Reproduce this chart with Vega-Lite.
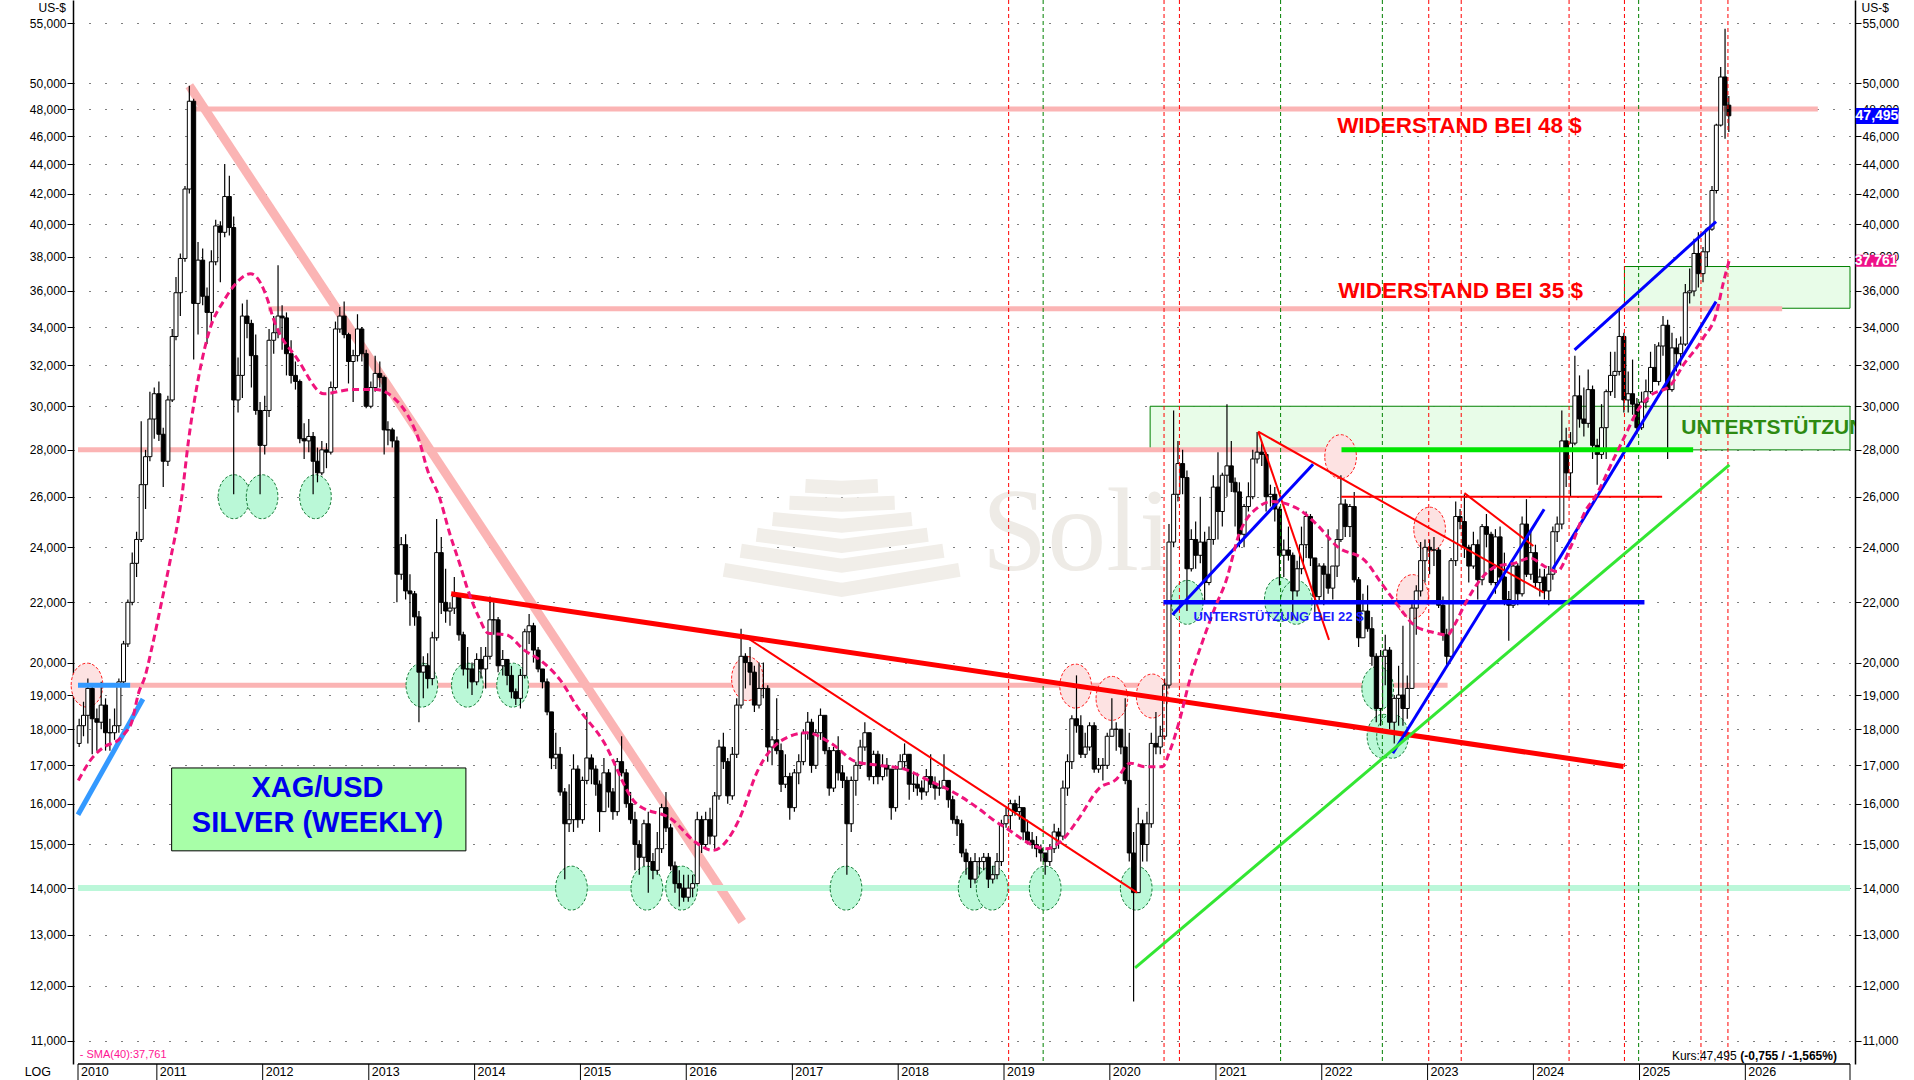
{
"$schema":"https://vega.github.io/schema/vega-lite/v6.json",
"width":1782,"height":1064,
"autosize":{"type":"none"},
"padding":{"left":73,"top":0,"right":59,"bottom":16},
"background":"white",
"config":{"view":{"stroke":null},"font":"Liberation Sans"},
"resolve":{"scale":{"x":"shared","y":"shared"},"axis":{"y":"independent"}},
"datasets":{
"candles":[
{"d":"2010-04-08","o":17.6,"h":18.3,"l":17.5,"c":18.1},{"d":"2010-04-23","o":18.1,"h":18.8,"l":17.8,"c":18.4},{"d":"2010-05-08","o":18.4,"h":19.5,"l":17.6,"c":19.2},{"d":"2010-05-23","o":19.2,"h":19.3,"l":17.3,"c":18.3},{"d":"2010-06-08","o":18.3,"h":18.6,"l":17.4,"c":18.2},{"d":"2010-06-23","o":18.2,"h":19.4,"l":18.0,"c":18.7},{"d":"2010-07-08","o":18.7,"h":18.9,"l":17.4,"c":17.9},{"d":"2010-07-23","o":17.9,"h":18.3,"l":17.4,"c":17.9},{"d":"2010-08-08","o":17.9,"h":18.6,"l":17.7,"c":18.1},{"d":"2010-08-23","o":18.1,"h":19.5,"l":17.9,"c":19.4},{"d":"2010-09-08","o":19.4,"h":20.7,"l":19.3,"c":20.6},{"d":"2010-09-23","o":20.6,"h":22.1,"l":20.5,"c":22.0},{"d":"2010-10-08","o":22.0,"h":23.8,"l":21.9,"c":23.4},{"d":"2010-10-23","o":23.4,"h":24.6,"l":22.9,"c":24.3},{"d":"2010-11-08","o":24.3,"h":29.3,"l":24.2,"c":26.5},{"d":"2010-11-23","o":26.5,"h":28.0,"l":25.5,"c":27.7},{"d":"2010-12-08","o":27.7,"h":30.7,"l":27.5,"c":29.4},{"d":"2010-12-23","o":29.4,"h":30.9,"l":28.5,"c":30.6},
{"d":"2011-01-08","o":30.6,"h":31.2,"l":28.4,"c":28.7},{"d":"2011-01-23","o":28.7,"h":29.0,"l":26.4,"c":27.5},{"d":"2011-02-08","o":27.5,"h":30.5,"l":27.3,"c":30.3},{"d":"2011-02-23","o":30.3,"h":33.9,"l":30.2,"c":33.5},{"d":"2011-03-08","o":33.5,"h":36.8,"l":33.3,"c":35.9},{"d":"2011-03-23","o":35.9,"h":38.2,"l":34.6,"c":37.9},{"d":"2011-04-08","o":37.9,"h":42.5,"l":37.7,"c":42.3},{"d":"2011-04-23","o":42.3,"h":49.8,"l":42.0,"c":48.6},{"d":"2011-05-08","o":48.6,"h":48.8,"l":32.3,"c":35.3},{"d":"2011-05-23","o":35.3,"h":38.9,"l":33.6,"c":37.8},{"d":"2011-06-08","o":37.8,"h":38.5,"l":35.2,"c":35.7},{"d":"2011-06-23","o":35.7,"h":36.2,"l":33.1,"c":34.8},{"d":"2011-07-08","o":34.8,"h":38.4,"l":34.0,"c":37.7},{"d":"2011-07-23","o":37.7,"h":40.3,"l":37.5,"c":39.9},{"d":"2011-08-08","o":39.9,"h":40.2,"l":36.5,"c":39.5},{"d":"2011-08-23","o":39.5,"h":44.0,"l":39.2,"c":41.8},{"d":"2011-09-08","o":41.8,"h":43.2,"l":39.3,"c":39.8},{"d":"2011-09-23","o":39.8,"h":40.5,"l":26.1,"c":30.3},{"d":"2011-10-08","o":30.3,"h":32.4,"l":29.7,"c":31.5},{"d":"2011-10-23","o":31.5,"h":35.3,"l":30.4,"c":34.6},{"d":"2011-11-08","o":34.6,"h":35.5,"l":33.4,"c":34.2},{"d":"2011-11-23","o":34.2,"h":34.4,"l":30.9,"c":32.5},{"d":"2011-12-08","o":32.5,"h":33.6,"l":29.6,"c":29.8},{"d":"2011-12-23","o":29.8,"h":30.2,"l":26.1,"c":28.2},
{"d":"2012-01-08","o":28.2,"h":30.5,"l":27.8,"c":29.8},{"d":"2012-01-23","o":29.8,"h":33.9,"l":29.5,"c":33.3},{"d":"2012-02-08","o":33.3,"h":34.6,"l":32.6,"c":33.7},{"d":"2012-02-23","o":33.7,"h":37.5,"l":33.4,"c":34.6},{"d":"2012-03-08","o":34.6,"h":35.2,"l":32.8,"c":34.5},{"d":"2012-03-23","o":34.5,"h":34.8,"l":31.5,"c":32.6},{"d":"2012-04-08","o":32.6,"h":33.3,"l":31.1,"c":31.5},{"d":"2012-04-23","o":31.5,"h":32.2,"l":30.8,"c":31.2},{"d":"2012-05-08","o":31.2,"h":31.3,"l":28.3,"c":28.5},{"d":"2012-05-23","o":28.5,"h":29.2,"l":27.6,"c":28.4},{"d":"2012-06-08","o":28.4,"h":29.4,"l":27.9,"c":28.6},{"d":"2012-06-23","o":28.6,"h":28.8,"l":26.1,"c":27.5},{"d":"2012-07-08","o":27.5,"h":28.1,"l":26.6,"c":27.0},{"d":"2012-07-23","o":27.0,"h":28.4,"l":26.9,"c":28.0},{"d":"2012-08-08","o":28.0,"h":28.3,"l":27.2,"c":27.9},{"d":"2012-08-23","o":27.9,"h":31.2,"l":27.8,"c":30.9},{"d":"2012-09-08","o":30.9,"h":34.3,"l":30.8,"c":33.9},{"d":"2012-09-23","o":33.9,"h":35.1,"l":33.7,"c":34.6},{"d":"2012-10-08","o":34.6,"h":35.4,"l":33.4,"c":33.6},{"d":"2012-10-23","o":33.6,"h":33.7,"l":31.1,"c":32.2},{"d":"2012-11-08","o":32.2,"h":32.8,"l":30.2,"c":32.5},{"d":"2012-11-23","o":32.5,"h":34.7,"l":32.2,"c":33.9},{"d":"2012-12-08","o":33.9,"h":34.0,"l":32.2,"c":32.6},{"d":"2012-12-23","o":32.6,"h":32.8,"l":29.9,"c":30.0},
{"d":"2013-01-08","o":30.0,"h":31.2,"l":29.9,"c":30.9},{"d":"2013-01-23","o":30.9,"h":32.5,"l":30.7,"c":31.6},{"d":"2013-02-08","o":31.6,"h":32.2,"l":30.9,"c":31.4},{"d":"2013-02-23","o":31.4,"h":31.5,"l":27.8,"c":28.9},{"d":"2013-03-08","o":28.9,"h":29.3,"l":28.2,"c":28.9},{"d":"2013-03-23","o":28.9,"h":29.0,"l":28.1,"c":28.4},{"d":"2013-04-08","o":28.4,"h":28.6,"l":22.0,"c":23.0},{"d":"2013-04-23","o":23.0,"h":24.4,"l":22.8,"c":24.1},{"d":"2013-05-08","o":24.1,"h":24.5,"l":22.1,"c":22.4},{"d":"2013-05-23","o":22.4,"h":23.0,"l":21.2,"c":22.3},{"d":"2013-06-08","o":22.3,"h":22.4,"l":21.2,"c":21.5},{"d":"2013-06-23","o":21.5,"h":21.7,"l":18.2,"c":19.7},{"d":"2013-07-08","o":19.7,"h":20.2,"l":18.9,"c":19.9},{"d":"2013-07-23","o":19.9,"h":20.3,"l":19.2,"c":19.5},{"d":"2013-08-08","o":19.5,"h":21.0,"l":19.3,"c":20.8},{"d":"2013-08-23","o":20.8,"h":25.1,"l":20.7,"c":23.8},{"d":"2013-09-08","o":23.8,"h":24.4,"l":21.6,"c":22.0},{"d":"2013-09-23","o":22.0,"h":23.2,"l":21.3,"c":21.7},{"d":"2013-10-08","o":21.7,"h":22.0,"l":21.2,"c":21.8},{"d":"2013-10-23","o":21.8,"h":22.9,"l":21.6,"c":22.2},{"d":"2013-11-08","o":22.2,"h":22.3,"l":20.7,"c":20.9},{"d":"2013-11-23","o":20.9,"h":21.0,"l":19.6,"c":19.8},{"d":"2013-12-08","o":19.8,"h":20.5,"l":19.2,"c":19.8},{"d":"2013-12-23","o":19.8,"h":20.0,"l":19.0,"c":19.4},
{"d":"2014-01-08","o":19.4,"h":20.3,"l":19.3,"c":20.1},{"d":"2014-01-23","o":20.1,"h":20.5,"l":19.5,"c":19.8},{"d":"2014-02-08","o":19.8,"h":20.5,"l":19.2,"c":20.2},{"d":"2014-02-23","o":20.2,"h":22.2,"l":20.1,"c":21.4},{"d":"2014-03-08","o":21.4,"h":22.0,"l":20.9,"c":21.4},{"d":"2014-03-23","o":21.4,"h":21.5,"l":19.7,"c":19.9},{"d":"2014-04-08","o":19.9,"h":20.4,"l":19.6,"c":20.1},{"d":"2014-04-23","o":20.1,"h":20.1,"l":19.3,"c":19.6},{"d":"2014-05-08","o":19.6,"h":19.9,"l":18.9,"c":19.1},{"d":"2014-05-23","o":19.1,"h":19.2,"l":18.7,"c":18.9},{"d":"2014-06-08","o":18.9,"h":19.8,"l":18.6,"c":19.6},{"d":"2014-06-23","o":19.6,"h":21.1,"l":19.5,"c":21.0},{"d":"2014-07-08","o":21.0,"h":21.6,"l":20.6,"c":21.2},{"d":"2014-07-23","o":21.2,"h":21.3,"l":20.0,"c":20.4},{"d":"2014-08-08","o":20.4,"h":20.5,"l":19.7,"c":19.8},{"d":"2014-08-23","o":19.8,"h":19.8,"l":19.2,"c":19.4},{"d":"2014-09-08","o":19.4,"h":19.5,"l":18.4,"c":18.5},{"d":"2014-09-23","o":18.5,"h":18.5,"l":16.9,"c":17.2},{"d":"2014-10-08","o":17.2,"h":17.9,"l":16.9,"c":17.3},{"d":"2014-10-23","o":17.3,"h":17.5,"l":16.2,"c":16.3},{"d":"2014-11-08","o":16.3,"h":16.4,"l":14.2,"c":15.5},{"d":"2014-11-23","o":15.5,"h":16.5,"l":15.3,"c":15.6},{"d":"2014-12-08","o":15.6,"h":17.3,"l":15.3,"c":16.9},{"d":"2014-12-23","o":16.9,"h":17.0,"l":15.4,"c":15.6},
{"d":"2015-01-08","o":15.6,"h":16.7,"l":15.5,"c":16.6},{"d":"2015-01-23","o":16.6,"h":18.5,"l":16.5,"c":17.2},{"d":"2015-02-08","o":17.2,"h":17.3,"l":16.5,"c":16.9},{"d":"2015-02-23","o":16.9,"h":17.0,"l":16.2,"c":16.5},{"d":"2015-03-08","o":16.5,"h":16.6,"l":15.3,"c":15.8},{"d":"2015-03-23","o":15.8,"h":17.2,"l":15.8,"c":16.8},{"d":"2015-04-08","o":16.8,"h":16.9,"l":15.9,"c":16.3},{"d":"2015-04-23","o":16.3,"h":16.4,"l":15.6,"c":15.8},{"d":"2015-05-08","o":15.8,"h":17.2,"l":15.7,"c":17.1},{"d":"2015-05-23","o":17.1,"h":17.8,"l":16.7,"c":16.8},{"d":"2015-06-08","o":16.8,"h":16.9,"l":15.9,"c":16.0},{"d":"2015-06-23","o":16.0,"h":16.3,"l":15.5,"c":15.6},{"d":"2015-07-08","o":15.6,"h":15.8,"l":14.4,"c":15.0},{"d":"2015-07-23","o":15.0,"h":15.1,"l":14.3,"c":14.7},{"d":"2015-08-08","o":14.7,"h":15.6,"l":14.5,"c":15.5},{"d":"2015-08-23","o":15.5,"h":15.8,"l":13.9,"c":14.6},{"d":"2015-09-08","o":14.6,"h":14.8,"l":14.2,"c":14.4},{"d":"2015-09-23","o":14.4,"h":15.3,"l":14.3,"c":14.9},{"d":"2015-10-08","o":14.9,"h":16.0,"l":14.8,"c":15.9},{"d":"2015-10-23","o":15.9,"h":16.3,"l":15.3,"c":15.4},{"d":"2015-11-08","o":15.4,"h":15.5,"l":14.4,"c":14.5},{"d":"2015-11-23","o":14.5,"h":14.6,"l":13.9,"c":14.1},{"d":"2015-12-08","o":14.1,"h":14.4,"l":13.6,"c":14.0},{"d":"2015-12-23","o":14.0,"h":14.3,"l":13.7,"c":13.8},
{"d":"2016-01-08","o":13.8,"h":14.3,"l":13.7,"c":14.0},{"d":"2016-01-23","o":14.0,"h":14.3,"l":13.8,"c":14.1},{"d":"2016-02-08","o":14.1,"h":15.8,"l":14.1,"c":15.6},{"d":"2016-02-23","o":15.6,"h":15.7,"l":14.8,"c":15.0},{"d":"2016-03-08","o":15.0,"h":15.8,"l":14.9,"c":15.6},{"d":"2016-03-23","o":15.6,"h":15.9,"l":15.0,"c":15.2},{"d":"2016-04-08","o":15.2,"h":16.3,"l":14.9,"c":16.2},{"d":"2016-04-23","o":16.2,"h":17.7,"l":16.1,"c":17.5},{"d":"2016-05-08","o":17.5,"h":17.9,"l":16.9,"c":17.1},{"d":"2016-05-23","o":17.1,"h":17.2,"l":16.0,"c":16.2},{"d":"2016-06-08","o":16.2,"h":17.5,"l":16.1,"c":17.3},{"d":"2016-06-23","o":17.3,"h":18.9,"l":17.2,"c":18.7},{"d":"2016-07-08","o":18.7,"h":21.1,"l":18.6,"c":20.2},{"d":"2016-07-23","o":20.2,"h":20.3,"l":19.2,"c":20.0},{"d":"2016-08-08","o":20.0,"h":20.5,"l":19.3,"c":19.7},{"d":"2016-08-23","o":19.7,"h":19.9,"l":18.5,"c":18.7},{"d":"2016-09-08","o":18.7,"h":20.0,"l":18.6,"c":19.2},{"d":"2016-09-23","o":19.2,"h":20.0,"l":18.9,"c":19.2},{"d":"2016-10-08","o":19.2,"h":19.3,"l":17.1,"c":17.5},{"d":"2016-10-23","o":17.5,"h":17.8,"l":17.0,"c":17.7},{"d":"2016-11-08","o":17.7,"h":18.9,"l":17.3,"c":17.4},{"d":"2016-11-23","o":17.4,"h":17.6,"l":16.3,"c":16.5},{"d":"2016-12-08","o":16.5,"h":17.3,"l":16.4,"c":16.7},{"d":"2016-12-23","o":16.7,"h":16.8,"l":15.6,"c":15.9},
{"d":"2017-01-08","o":15.9,"h":16.9,"l":15.8,"c":16.8},{"d":"2017-01-23","o":16.8,"h":17.3,"l":16.5,"c":17.1},{"d":"2017-02-08","o":17.1,"h":18.0,"l":17.0,"c":17.9},{"d":"2017-02-23","o":17.9,"h":18.5,"l":17.7,"c":18.2},{"d":"2017-03-08","o":18.2,"h":18.3,"l":16.8,"c":17.0},{"d":"2017-03-23","o":17.0,"h":18.0,"l":16.9,"c":17.9},{"d":"2017-04-08","o":17.9,"h":18.6,"l":17.7,"c":18.4},{"d":"2017-04-23","o":18.4,"h":18.4,"l":17.3,"c":17.4},{"d":"2017-05-08","o":17.4,"h":17.5,"l":16.2,"c":16.4},{"d":"2017-05-23","o":16.4,"h":17.5,"l":16.3,"c":17.4},{"d":"2017-06-08","o":17.4,"h":17.8,"l":16.6,"c":16.8},{"d":"2017-06-23","o":16.8,"h":17.0,"l":16.4,"c":16.6},{"d":"2017-07-08","o":16.6,"h":16.7,"l":14.3,"c":15.5},{"d":"2017-07-23","o":15.5,"h":16.7,"l":15.3,"c":16.6},{"d":"2017-08-08","o":16.6,"h":17.1,"l":16.2,"c":17.0},{"d":"2017-08-23","o":17.0,"h":17.7,"l":16.9,"c":17.5},{"d":"2017-09-08","o":17.5,"h":18.2,"l":17.4,"c":17.9},{"d":"2017-09-23","o":17.9,"h":17.9,"l":16.6,"c":16.7},{"d":"2017-10-08","o":16.7,"h":17.4,"l":16.5,"c":17.3},{"d":"2017-10-23","o":17.3,"h":17.4,"l":16.5,"c":16.7},{"d":"2017-11-08","o":16.7,"h":17.3,"l":16.6,"c":17.0},{"d":"2017-11-23","o":17.0,"h":17.2,"l":16.7,"c":16.9},{"d":"2017-12-08","o":16.9,"h":16.9,"l":15.6,"c":15.9},{"d":"2017-12-23","o":15.9,"h":17.0,"l":15.8,"c":16.9},
{"d":"2018-01-08","o":16.9,"h":17.3,"l":16.9,"c":17.1},{"d":"2018-01-23","o":17.1,"h":17.6,"l":16.9,"c":17.3},{"d":"2018-02-08","o":17.3,"h":17.3,"l":16.1,"c":16.5},{"d":"2018-02-23","o":16.5,"h":16.8,"l":16.3,"c":16.5},{"d":"2018-03-08","o":16.5,"h":16.8,"l":16.2,"c":16.4},{"d":"2018-03-23","o":16.4,"h":16.6,"l":16.1,"c":16.3},{"d":"2018-04-08","o":16.3,"h":16.9,"l":16.2,"c":16.7},{"d":"2018-04-23","o":16.7,"h":17.3,"l":16.4,"c":16.5},{"d":"2018-05-08","o":16.5,"h":16.7,"l":16.1,"c":16.4},{"d":"2018-05-23","o":16.4,"h":16.6,"l":16.2,"c":16.4},{"d":"2018-06-08","o":16.4,"h":17.3,"l":16.4,"c":16.6},{"d":"2018-06-23","o":16.6,"h":16.6,"l":15.9,"c":16.1},{"d":"2018-07-08","o":16.1,"h":16.2,"l":15.5,"c":15.6},{"d":"2018-07-23","o":15.6,"h":15.7,"l":15.2,"c":15.5},{"d":"2018-08-08","o":15.5,"h":15.6,"l":14.7,"c":14.8},{"d":"2018-08-23","o":14.8,"h":14.9,"l":14.3,"c":14.6},{"d":"2018-09-08","o":14.6,"h":14.7,"l":14.0,"c":14.2},{"d":"2018-09-23","o":14.2,"h":14.8,"l":14.1,"c":14.6},{"d":"2018-10-08","o":14.6,"h":14.7,"l":14.3,"c":14.6},{"d":"2018-10-23","o":14.6,"h":14.8,"l":14.4,"c":14.7},{"d":"2018-11-08","o":14.7,"h":14.8,"l":14.0,"c":14.2},{"d":"2018-11-23","o":14.2,"h":14.5,"l":14.1,"c":14.3},{"d":"2018-12-08","o":14.3,"h":14.8,"l":14.2,"c":14.6},{"d":"2018-12-23","o":14.6,"h":15.6,"l":14.5,"c":15.5},
{"d":"2019-01-08","o":15.5,"h":15.9,"l":15.4,"c":15.7},{"d":"2019-01-23","o":15.7,"h":16.1,"l":15.3,"c":16.0},{"d":"2019-02-08","o":16.0,"h":16.1,"l":15.7,"c":15.8},{"d":"2019-02-23","o":15.8,"h":16.2,"l":15.6,"c":15.9},{"d":"2019-03-08","o":15.9,"h":15.9,"l":15.1,"c":15.3},{"d":"2019-03-23","o":15.3,"h":15.6,"l":15.0,"c":15.1},{"d":"2019-04-08","o":15.1,"h":15.3,"l":14.9,"c":15.0},{"d":"2019-04-23","o":15.0,"h":15.2,"l":14.7,"c":14.9},{"d":"2019-05-08","o":14.9,"h":15.0,"l":14.6,"c":14.8},{"d":"2019-05-23","o":14.8,"h":14.8,"l":14.3,"c":14.6},{"d":"2019-06-08","o":14.6,"h":15.0,"l":14.5,"c":14.9},{"d":"2019-06-23","o":14.9,"h":15.5,"l":14.8,"c":15.3},{"d":"2019-07-08","o":15.3,"h":15.4,"l":14.9,"c":15.2},{"d":"2019-07-23","o":15.2,"h":16.6,"l":15.1,"c":16.4},{"d":"2019-08-08","o":16.4,"h":17.3,"l":16.2,"c":17.1},{"d":"2019-08-23","o":17.1,"h":18.4,"l":16.9,"c":18.3},{"d":"2019-09-08","o":18.3,"h":19.6,"l":17.9,"c":18.1},{"d":"2019-09-23","o":18.1,"h":18.4,"l":17.2,"c":17.3},{"d":"2019-10-08","o":17.3,"h":17.9,"l":17.2,"c":17.5},{"d":"2019-10-23","o":17.5,"h":18.2,"l":17.4,"c":18.1},{"d":"2019-11-08","o":18.1,"h":18.2,"l":16.8,"c":16.9},{"d":"2019-11-23","o":16.9,"h":17.2,"l":16.8,"c":17.0},{"d":"2019-12-08","o":17.0,"h":17.2,"l":16.6,"c":17.0},{"d":"2019-12-23","o":17.0,"h":17.9,"l":16.9,"c":17.8},
{"d":"2020-01-08","o":17.8,"h":18.9,"l":17.8,"c":18.0},{"d":"2020-01-23","o":18.0,"h":18.2,"l":17.4,"c":18.0},{"d":"2020-02-08","o":18.0,"h":18.0,"l":17.3,"c":17.5},{"d":"2020-02-23","o":17.5,"h":18.9,"l":16.5,"c":16.6},{"d":"2020-03-08","o":16.6,"h":17.9,"l":14.6,"c":14.8},{"d":"2020-03-23","o":14.8,"h":15.3,"l":11.7,"c":13.9},{"d":"2020-04-08","o":13.9,"h":15.9,"l":13.9,"c":15.5},{"d":"2020-04-23","o":15.5,"h":15.6,"l":14.6,"c":15.0},{"d":"2020-05-08","o":15.0,"h":15.8,"l":14.6,"c":15.5},{"d":"2020-05-23","o":15.5,"h":17.9,"l":15.4,"c":17.6},{"d":"2020-06-08","o":17.6,"h":18.5,"l":17.3,"c":17.5},{"d":"2020-06-23","o":17.5,"h":18.1,"l":17.3,"c":17.8},{"d":"2020-07-08","o":17.8,"h":19.5,"l":17.7,"c":19.3},{"d":"2020-07-23","o":19.3,"h":24.9,"l":19.2,"c":24.2},{"d":"2020-08-08","o":24.2,"h":29.8,"l":24.0,"c":26.1},{"d":"2020-08-23","o":26.1,"h":28.4,"l":25.8,"c":27.4},{"d":"2020-09-08","o":27.4,"h":28.0,"l":26.1,"c":26.8},{"d":"2020-09-23","o":26.8,"h":27.1,"l":21.7,"c":23.2},{"d":"2020-10-08","o":23.2,"h":24.7,"l":23.1,"c":24.3},{"d":"2020-10-23","o":24.3,"h":25.0,"l":23.2,"c":23.7},{"d":"2020-11-08","o":23.7,"h":26.0,"l":23.4,"c":24.2},{"d":"2020-11-23","o":24.2,"h":24.6,"l":22.0,"c":22.7},{"d":"2020-12-08","o":22.7,"h":24.8,"l":22.6,"c":24.3},{"d":"2020-12-23","o":24.3,"h":26.9,"l":24.1,"c":26.4},
{"d":"2021-01-08","o":26.4,"h":27.9,"l":24.3,"c":25.4},{"d":"2021-01-23","o":25.4,"h":27.0,"l":24.8,"c":26.9},{"d":"2021-02-08","o":26.9,"h":30.1,"l":26.0,"c":27.3},{"d":"2021-02-23","o":27.3,"h":28.4,"l":26.2,"c":26.6},{"d":"2021-03-08","o":26.6,"h":26.8,"l":24.8,"c":26.2},{"d":"2021-03-23","o":26.2,"h":26.6,"l":24.0,"c":24.5},{"d":"2021-04-08","o":24.5,"h":25.7,"l":24.0,"c":25.6},{"d":"2021-04-23","o":25.6,"h":26.6,"l":25.4,"c":26.0},{"d":"2021-05-08","o":26.0,"h":28.0,"l":25.9,"c":27.6},{"d":"2021-05-23","o":27.6,"h":28.8,"l":27.4,"c":27.9},{"d":"2021-06-08","o":27.9,"h":28.3,"l":27.3,"c":27.8},{"d":"2021-06-23","o":27.8,"h":27.9,"l":25.4,"c":26.0},{"d":"2021-07-08","o":26.0,"h":26.5,"l":25.6,"c":26.1},{"d":"2021-07-23","o":26.1,"h":26.4,"l":25.0,"c":25.5},{"d":"2021-08-08","o":25.5,"h":25.6,"l":22.6,"c":23.7},{"d":"2021-08-23","o":23.7,"h":24.3,"l":22.9,"c":23.9},{"d":"2021-09-08","o":23.9,"h":24.8,"l":23.5,"c":23.7},{"d":"2021-09-23","o":23.7,"h":23.8,"l":21.4,"c":22.4},{"d":"2021-10-08","o":22.4,"h":23.5,"l":22.2,"c":23.2},{"d":"2021-10-23","o":23.2,"h":24.8,"l":23.0,"c":24.1},{"d":"2021-11-08","o":24.1,"h":25.4,"l":23.6,"c":25.2},{"d":"2021-11-23","o":25.2,"h":25.3,"l":23.3,"c":23.6},{"d":"2021-12-08","o":23.6,"h":23.6,"l":21.6,"c":22.2},{"d":"2021-12-23","o":22.2,"h":23.4,"l":22.0,"c":23.3},
{"d":"2022-01-08","o":23.3,"h":23.4,"l":21.9,"c":23.0},{"d":"2022-01-23","o":23.0,"h":24.7,"l":22.3,"c":22.5},{"d":"2022-02-08","o":22.5,"h":23.3,"l":22.1,"c":23.3},{"d":"2022-02-23","o":23.3,"h":24.7,"l":22.9,"c":24.3},{"d":"2022-03-08","o":24.3,"h":26.9,"l":24.2,"c":25.7},{"d":"2022-03-23","o":25.7,"h":25.9,"l":24.4,"c":24.8},{"d":"2022-04-08","o":24.8,"h":25.7,"l":24.4,"c":25.6},{"d":"2022-04-23","o":25.6,"h":26.2,"l":22.7,"c":22.8},{"d":"2022-05-08","o":22.8,"h":22.9,"l":20.5,"c":20.8},{"d":"2022-05-23","o":20.8,"h":22.3,"l":20.8,"c":21.7},{"d":"2022-06-08","o":21.7,"h":22.6,"l":21.0,"c":21.1},{"d":"2022-06-23","o":21.1,"h":21.5,"l":19.9,"c":20.2},{"d":"2022-07-08","o":20.2,"h":20.3,"l":18.2,"c":18.6},{"d":"2022-07-23","o":18.6,"h":20.4,"l":18.1,"c":20.2},{"d":"2022-08-08","o":20.2,"h":20.9,"l":19.3,"c":20.4},{"d":"2022-08-23","o":20.4,"h":20.5,"l":18.0,"c":18.2},{"d":"2022-09-08","o":18.2,"h":19.0,"l":17.6,"c":18.9},{"d":"2022-09-23","o":18.9,"h":19.9,"l":18.1,"c":19.0},{"d":"2022-10-08","o":19.0,"h":21.2,"l":18.1,"c":18.6},{"d":"2022-10-23","o":18.6,"h":19.6,"l":18.3,"c":19.2},{"d":"2022-11-08","o":19.2,"h":22.0,"l":19.2,"c":21.8},{"d":"2022-11-23","o":21.8,"h":22.6,"l":20.9,"c":22.4},{"d":"2022-12-08","o":22.4,"h":24.2,"l":22.2,"c":23.5},{"d":"2022-12-23","o":23.5,"h":24.3,"l":22.7,"c":24.0},
{"d":"2023-01-08","o":24.0,"h":24.3,"l":23.0,"c":23.9},{"d":"2023-01-23","o":23.9,"h":24.4,"l":23.3,"c":23.9},{"d":"2023-02-08","o":23.9,"h":24.0,"l":21.8,"c":21.9},{"d":"2023-02-23","o":21.9,"h":22.2,"l":20.7,"c":20.9},{"d":"2023-03-08","o":20.9,"h":21.1,"l":19.9,"c":20.2},{"d":"2023-03-23","o":20.2,"h":23.6,"l":20.1,"c":23.5},{"d":"2023-04-08","o":23.5,"h":25.8,"l":23.3,"c":25.2},{"d":"2023-04-23","o":25.2,"h":25.5,"l":24.7,"c":25.0},{"d":"2023-05-08","o":25.0,"h":26.1,"l":23.6,"c":24.0},{"d":"2023-05-23","o":24.0,"h":24.1,"l":22.7,"c":23.3},{"d":"2023-06-08","o":23.3,"h":24.6,"l":23.2,"c":24.1},{"d":"2023-06-23","o":24.1,"h":24.3,"l":22.1,"c":22.8},{"d":"2023-07-08","o":22.8,"h":24.9,"l":22.6,"c":24.8},{"d":"2023-07-23","o":24.8,"h":25.3,"l":24.0,"c":24.5},{"d":"2023-08-08","o":24.5,"h":24.6,"l":22.6,"c":22.7},{"d":"2023-08-23","o":22.7,"h":24.7,"l":22.3,"c":24.4},{"d":"2023-09-08","o":24.4,"h":24.8,"l":22.8,"c":22.9},{"d":"2023-09-23","o":22.9,"h":23.8,"l":21.9,"c":22.1},{"d":"2023-10-08","o":22.1,"h":22.4,"l":20.7,"c":21.9},{"d":"2023-10-23","o":21.9,"h":23.4,"l":21.8,"c":23.3},{"d":"2023-11-08","o":23.3,"h":23.4,"l":21.9,"c":22.3},{"d":"2023-11-23","o":22.3,"h":25.2,"l":22.2,"c":24.9},{"d":"2023-12-08","o":24.9,"h":25.9,"l":22.9,"c":23.0},{"d":"2023-12-23","o":23.0,"h":24.6,"l":22.8,"c":23.8},
{"d":"2024-01-08","o":23.8,"h":24.1,"l":22.5,"c":22.7},{"d":"2024-01-23","o":22.7,"h":23.2,"l":22.2,"c":22.9},{"d":"2024-02-08","o":22.9,"h":23.2,"l":22.1,"c":22.4},{"d":"2024-02-23","o":22.4,"h":23.3,"l":21.9,"c":23.0},{"d":"2024-03-08","o":23.0,"h":24.8,"l":22.8,"c":24.6},{"d":"2024-03-23","o":24.6,"h":25.2,"l":24.2,"c":24.9},{"d":"2024-04-08","o":24.9,"h":29.8,"l":24.7,"c":28.4},{"d":"2024-04-23","o":28.4,"h":29.0,"l":26.4,"c":27.0},{"d":"2024-05-08","o":27.0,"h":28.8,"l":26.0,"c":28.3},{"d":"2024-05-23","o":28.3,"h":32.5,"l":28.2,"c":30.5},{"d":"2024-06-08","o":30.5,"h":31.5,"l":29.0,"c":29.4},{"d":"2024-06-23","o":29.4,"h":30.9,"l":28.6,"c":29.2},{"d":"2024-07-08","o":29.2,"h":31.8,"l":29.0,"c":30.8},{"d":"2024-07-23","o":30.8,"h":31.0,"l":27.6,"c":28.2},{"d":"2024-08-08","o":28.2,"h":28.5,"l":26.5,"c":27.8},{"d":"2024-08-23","o":27.8,"h":30.1,"l":27.6,"c":29.0},{"d":"2024-09-08","o":29.0,"h":30.8,"l":27.6,"c":30.7},{"d":"2024-09-23","o":30.7,"h":32.7,"l":30.5,"c":31.5},{"d":"2024-10-08","o":31.5,"h":32.7,"l":30.4,"c":31.7},{"d":"2024-10-23","o":31.7,"h":34.9,"l":31.5,"c":33.5},{"d":"2024-11-08","o":33.5,"h":33.7,"l":29.7,"c":30.3},{"d":"2024-11-23","o":30.3,"h":31.7,"l":29.7,"c":30.6},{"d":"2024-12-08","o":30.6,"h":32.3,"l":29.6,"c":30.1},{"d":"2024-12-23","o":30.1,"h":30.4,"l":28.7,"c":29.0},
{"d":"2025-01-08","o":29.0,"h":30.7,"l":28.9,"c":30.2},{"d":"2025-01-23","o":30.2,"h":31.3,"l":29.9,"c":30.7},{"d":"2025-02-08","o":30.7,"h":32.7,"l":30.6,"c":31.9},{"d":"2025-02-23","o":31.9,"h":33.1,"l":31.2,"c":31.2},{"d":"2025-03-08","o":31.2,"h":33.2,"l":31.0,"c":33.0},{"d":"2025-03-23","o":33.0,"h":34.6,"l":32.5,"c":34.1},{"d":"2025-04-08","o":34.1,"h":34.4,"l":27.6,"c":30.8},{"d":"2025-04-23","o":30.8,"h":33.7,"l":30.7,"c":32.9},{"d":"2025-05-08","o":32.9,"h":33.4,"l":31.7,"c":32.6},{"d":"2025-05-23","o":32.6,"h":33.5,"l":32.0,"c":33.1},{"d":"2025-06-08","o":33.1,"h":36.4,"l":33.0,"c":35.9},{"d":"2025-06-23","o":35.9,"h":37.3,"l":35.3,"c":36.0},{"d":"2025-07-08","o":36.0,"h":39.1,"l":35.7,"c":38.2},{"d":"2025-07-23","o":38.2,"h":39.5,"l":36.2,"c":37.0},{"d":"2025-08-08","o":37.0,"h":38.6,"l":36.5,"c":38.3},{"d":"2025-08-23","o":38.3,"h":39.8,"l":37.4,"c":39.7},{"d":"2025-09-08","o":39.7,"h":42.5,"l":39.6,"c":42.2},{"d":"2025-09-23","o":42.2,"h":46.9,"l":42.0,"c":46.8},{"d":"2025-10-08","o":46.8,"h":51.3,"l":46.7,"c":50.5},{"d":"2025-10-23","o":50.5,"h":54.5,"l":45.8,"c":48.3},{"d":"2025-11-05","o":48.3,"h":49.0,"l":46.3,"c":47.495}
],
"sma":[
{"d":"2010-04-05","v":16.6},{"d":"2010-05-26","v":17.23},{"d":"2010-07-05","v":17.51},{"d":"2010-08-22","v":17.7},{"d":"2010-09-13","v":17.89},{"d":"2010-10-05","v":18.17},{"d":"2010-10-30","v":19.06},{"d":"2010-11-21","v":19.56},{"d":"2010-12-13","v":20.4},{"d":"2011-01-19","v":22.09},{"d":"2011-02-14","v":23.4},{"d":"2011-03-28","v":26.0},{"d":"2011-04-20","v":28.4},{"d":"2011-05-26","v":31.5},{"d":"2011-07-01","v":33.8},{"d":"2011-08-22","v":35.5},{"d":"2011-09-24","v":36.3},{"d":"2011-11-20","v":37.0},{"d":"2011-12-25","v":36.45},{"d":"2012-01-18","v":35.5},{"d":"2012-02-06","v":34.5},{"d":"2012-05-01","v":32.3},{"d":"2012-07-31","v":30.6},{"d":"2012-11-03","v":30.8},{"d":"2013-01-26","v":30.8},{"d":"2013-03-28","v":30.4},{"d":"2013-05-30","v":29.2},{"d":"2013-06-24","v":28.4},{"d":"2013-07-23","v":27.1},{"d":"2013-09-01","v":26.0},{"d":"2013-10-08","v":24.5},{"d":"2013-11-13","v":23.3},{"d":"2013-12-05","v":22.55},{"d":"2014-01-15","v":21.5},{"d":"2014-02-17","v":20.95},{"d":"2014-04-20","v":20.9},{"d":"2014-06-21","v":20.4},{"d":"2014-08-22","v":20.03},{"d":"2014-10-23","v":19.46},{"d":"2014-12-20","v":18.66},{"d":"2015-03-18","v":17.7},{"d":"2015-07-13","v":16.0},{"d":"2015-11-14","v":15.6},{"d":"2016-01-30","v":15.07},{"d":"2016-04-01","v":14.86},{"d":"2016-06-13","v":15.35},{"d":"2016-07-01","v":15.6},{"d":"2016-09-06","v":16.9},{"d":"2016-11-28","v":17.7},{"d":"2017-02-20","v":17.9},{"d":"2017-05-15","v":17.6},{"d":"2017-08-08","v":17.1},{"d":"2017-10-31","v":17.0},{"d":"2018-01-23","v":16.9},{"d":"2018-04-16","v":16.6},{"d":"2018-07-09","v":16.3},{"d":"2018-10-01","v":15.9},{"d":"2018-11-24","v":15.6},{"d":"2019-01-18","v":15.35},{"d":"2019-03-28","v":15.03},{"d":"2019-05-26","v":14.9},{"d":"2019-07-20","v":15.1},{"d":"2019-09-13","v":15.6},{"d":"2019-11-26","v":16.4},{"d":"2020-01-22","v":16.62},{"d":"2020-03-11","v":17.06},{"d":"2020-05-05","v":16.96},{"d":"2020-07-01","v":16.96},{"d":"2020-07-23","v":17.33},{"d":"2020-08-29","v":18.27},{"d":"2020-10-01","v":19.4},{"d":"2020-11-14","v":20.63},{"d":"2021-01-01","v":21.9},{"d":"2021-02-03","v":22.7},{"d":"2021-03-22","v":24.5},{"d":"2021-05-30","v":25.6},{"d":"2021-07-13","v":25.8},{"d":"2021-10-12","v":25.5},{"d":"2021-12-09","v":24.95},{"d":"2022-02-27","v":24.0},{"d":"2022-05-30","v":23.5},{"d":"2022-07-24","v":22.7},{"d":"2022-09-20","v":21.9},{"d":"2022-11-18","v":21.2},{"d":"2023-01-12","v":21.0},{"d":"2023-03-11","v":20.9},{"d":"2023-04-02","v":21.2},{"d":"2023-05-08","v":21.9},{"d":"2023-07-02","v":22.8},{"d":"2023-08-29","v":23.3},{"d":"2023-10-27","v":23.4},{"d":"2023-12-21","v":23.6},{"d":"2024-02-07","v":23.3},{"d":"2024-03-22","v":23.1},{"d":"2024-05-08","v":24.0},{"d":"2024-07-02","v":25.5},{"d":"2024-07-27","v":25.9},{"d":"2024-10-04","v":27.6},{"d":"2024-11-18","v":28.8},{"d":"2024-12-21","v":29.7},{"d":"2025-02-07","v":30.5},{"d":"2025-04-17","v":31.0},{"d":"2025-05-31","v":32.0},{"d":"2025-08-08","v":33.4},{"d":"2025-09-24","v":34.8},{"d":"2025-10-16","v":36.4},{"d":"2025-11-06","v":37.761}
],
"hlines":[
{"id":"pd","d":"2011-04-23","v":49.8,"col":"#fbb4b4","w":9},{"id":"pd","d":"2016-07-12","v":13.28,"col":"#fbb4b4","w":9},
{"id":"p48","d":"2011-04-23","v":48,"col":"#fbb4b4","w":5},{"id":"p48","d":"2026-09-08","v":48,"col":"#fbb4b4","w":5},
{"id":"p35","d":"2012-01-20","v":35,"col":"#fbb4b4","w":5},{"id":"p35","d":"2026-05-08","v":35,"col":"#fbb4b4","w":5},
{"id":"p28","d":"2010-04-04","v":28,"col":"#fbb4b4","w":5},{"id":"p28","d":"2022-03-10","v":28,"col":"#fbb4b4","w":5},
{"id":"p19","d":"2010-10-01","v":19.3,"col":"#fbb4b4","w":5},{"id":"p19","d":"2023-03-11","v":19.3,"col":"#fbb4b4","w":5},
{"id":"m14","d":"2010-04-04","v":14,"col":"#bbf7d9","w":6},{"id":"m14","d":"2026-12-28","v":14,"col":"#bbf7d9","w":6}
],
"trend":[
{"id":"rt","d":"2013-10-12","v":22.3,"col":"#ff0000","w":5},{"id":"rt","d":"2024-11-07","v":16.97,"col":"#ff0000","w":5},
{"id":"r1","d":"2016-07-13","v":20.9,"col":"#ff0000","w":2},{"id":"r1","d":"2020-04-04","v":13.9,"col":"#ff0000","w":2},
{"id":"r2","d":"2021-05-27","v":28.82,"col":"#ff0000","w":2},{"id":"r2","d":"2024-02-06","v":22.34,"col":"#ff0000","w":2},
{"id":"r3","d":"2021-05-27","v":28.82,"col":"#ff0000","w":2},{"id":"r3","d":"2022-01-26","v":20.73,"col":"#ff0000","w":2},
{"id":"r4","d":"2023-05-08","v":26.15,"col":"#ff0000","w":2},{"id":"r4","d":"2024-01-01","v":24.05,"col":"#ff0000","w":2},
{"id":"r5","d":"2022-03-09","v":26.0,"col":"#ff0000","w":2},{"id":"r5","d":"2025-03-20","v":26.0,"col":"#ff0000","w":2},
{"id":"b1","d":"2020-08-04","v":21.57,"col":"#0000ff","w":3},{"id":"b1","d":"2021-12-02","v":27.37,"col":"#0000ff","w":3},
{"id":"b2","d":"2022-09-03","v":17.33,"col":"#0000ff","w":3},{"id":"b2","d":"2024-02-07","v":25.49,"col":"#0000ff","w":3},
{"id":"b3","d":"2024-03-08","v":23.19,"col":"#0000ff","w":3},{"id":"b3","d":"2025-09-22","v":35.4,"col":"#0000ff","w":3},
{"id":"b4","d":"2024-05-22","v":32.8,"col":"#0000ff","w":3},{"id":"b4","d":"2025-09-22","v":40.17,"col":"#0000ff","w":3},
{"id":"b5","d":"2020-07-04","v":22.0,"col":"#0000ff","w":4.5},{"id":"b5","d":"2025-01-18","v":22.0,"col":"#0000ff","w":4.5},
{"id":"g1","d":"2020-03-28","v":12.34,"col":"#33e633","w":3},{"id":"g1","d":"2025-11-07","v":27.34,"col":"#33e633","w":3},
{"id":"g2","d":"2022-03-10","v":28.0,"col":"#00e600","w":5},{"id":"g2","d":"2025-07-05","v":28.0,"col":"#00e600","w":5},
{"id":"lb1","d":"2010-04-04","v":15.72,"col":"#3399ff","w":5},{"id":"lb1","d":"2010-11-14","v":18.88,"col":"#3399ff","w":5},
{"id":"lb2","d":"2010-04-04","v":19.3,"col":"#3399ff","w":5},{"id":"lb2","d":"2010-10-01","v":19.3,"col":"#3399ff","w":5}
],
"circles":[
{"d":"2011-09-24","v":26.0,"f":"#baf8d7","s":"#1b7f3b"},{"d":"2011-12-30","v":26.0,"f":"#baf8d7","s":"#1b7f3b"},{"d":"2012-07-01","v":26.0,"f":"#baf8d7","s":"#1b7f3b"},
{"d":"2013-07-03","v":19.3,"f":"#baf8d7","s":"#1b7f3b"},{"d":"2013-12-07","v":19.3,"f":"#baf8d7","s":"#1b7f3b"},{"d":"2014-05-12","v":19.3,"f":"#baf8d7","s":"#1b7f3b"},
{"d":"2014-12-01","v":14.0,"f":"#baf8d7","s":"#1b7f3b"},{"d":"2015-08-18","v":14.0,"f":"#baf8d7","s":"#1b7f3b"},{"d":"2015-12-16","v":14.0,"f":"#baf8d7","s":"#1b7f3b"},{"d":"2017-07-05","v":14.0,"f":"#baf8d7","s":"#1b7f3b"},{"d":"2018-09-20","v":14.0,"f":"#baf8d7","s":"#1b7f3b"},{"d":"2018-11-21","v":14.0,"f":"#baf8d7","s":"#1b7f3b"},{"d":"2019-05-23","v":14.0,"f":"#baf8d7","s":"#1b7f3b"},{"d":"2020-04-01","v":14.0,"f":"#baf8d7","s":"#1b7f3b"},
{"d":"2020-09-24","v":22.0,"f":"#baf8d7","s":"#1b7f3b"},{"d":"2021-08-11","v":22.1,"f":"#baf8d7","s":"#1b7f3b"},{"d":"2021-10-05","v":22.0,"f":"#baf8d7","s":"#1b7f3b"},
{"d":"2022-07-13","v":19.2,"f":"#baf8d7","s":"#1b7f3b"},{"d":"2022-07-31","v":17.8,"f":"#baf8d7","s":"#1b7f3b"},{"d":"2022-09-02","v":17.8,"f":"#baf8d7","s":"#1b7f3b"},
{"d":"2010-05-05","v":19.3,"f":"#fde2e2","s":"#ff2020"},{"d":"2016-07-30","v":19.5,"f":"#fde2e2","s":"#ff2020"},{"d":"2019-09-05","v":19.27,"f":"#fde2e2","s":"#ff2020"},{"d":"2020-01-08","v":18.9,"f":"#fde2e2","s":"#ff2020"},{"d":"2020-05-26","v":18.97,"f":"#fde2e2","s":"#ff2020"},{"d":"2022-03-07","v":27.7,"f":"#fde2e2","s":"#ff2020"},{"d":"2022-11-10","v":22.2,"f":"#fde2e2","s":"#ff2020"},{"d":"2023-01-08","v":24.7,"f":"#fde2e2","s":"#ff2020"}
],
"vlines":[
{"d":"2019-01-17","col":"#ff0000"},{"d":"2019-05-16","col":"#008000"},{"d":"2020-07-06","col":"#ff0000"},{"d":"2020-08-28","col":"#ff0000"},{"d":"2021-08-12","col":"#008000"},{"d":"2022-07-29","col":"#008000"},{"d":"2023-01-05","col":"#ff0000"},{"d":"2023-04-27","col":"#ff0000"},{"d":"2024-05-03","col":"#ff0000"},{"d":"2024-11-10","col":"#ff0000"},{"d":"2024-12-29","col":"#008000"},{"d":"2025-08-01","col":"#ff0000"},{"d":"2025-11-02","col":"#ff0000"}
],
"pyr":[
{"id":"1","d":"2017-02-15","v":26.45},{"id":"1","d":"2017-06-20","v":26.37},{"id":"1","d":"2017-10-23","v":26.45},
{"id":"2","d":"2016-12-22","v":25.75},{"id":"2","d":"2017-06-20","v":25.67},{"id":"2","d":"2017-12-20","v":25.75},
{"id":"3","d":"2016-10-25","v":25.1},{"id":"3","d":"2017-06-20","v":24.83},{"id":"3","d":"2018-02-17","v":25.1},
{"id":"4","d":"2016-08-31","v":24.48},{"id":"4","d":"2017-06-20","v":24.05},{"id":"4","d":"2018-04-13","v":24.48},
{"id":"5","d":"2016-07-07","v":23.87},{"id":"5","d":"2017-06-20","v":23.31},{"id":"5","d":"2018-06-06","v":23.87},
{"id":"6","d":"2016-05-10","v":23.16},{"id":"6","d":"2017-06-20","v":22.44},{"id":"6","d":"2018-07-31","v":23.16}
],
"years":[
{"d":"2010-04-04","t":"2010"},{"d":"2011-01-01","t":"2011"},{"d":"2012-01-01","t":"2012"},{"d":"2013-01-01","t":"2013"},{"d":"2014-01-01","t":"2014"},{"d":"2015-01-01","t":"2015"},{"d":"2016-01-01","t":"2016"},{"d":"2017-01-01","t":"2017"},{"d":"2018-01-01","t":"2018"},{"d":"2019-01-01","t":"2019"},{"d":"2020-01-01","t":"2020"},{"d":"2021-01-01","t":"2021"},{"d":"2022-01-01","t":"2022"},{"d":"2023-01-01","t":"2023"},{"d":"2024-01-01","t":"2024"},{"d":"2025-01-01","t":"2025"},{"d":"2026-01-01","t":"2026"},{"d":"2026-12-28","t":""}
],
"boxes":[{"d":"2020-05-19","d2":"2026-12-28","v":28,"v2":30},{"d":"2024-11-10","d2":"2026-12-28","v":35.03,"v2":37.42}],
"tags":[{"d":"2027-01-17","d2":"2027-06-13","v":46.89,"v2":48.08,"m":"2027-03-31","c":47.495,"t":"47,495","col":"#0000ff"},{"d":"2027-01-17","d2":"2027-06-06","v":37.4,"v2":38.12,"m":"2027-03-28","c":37.761,"t":"37,761","col":"#ee1188"}]
},
"layer":[
{"data":{"name":"pyr"},"mark":{"type":"line","strokeWidth":14,"color":"#f1eee9","strokeCap":"butt","strokeJoin":"miter"},
 "encoding":{
  "x":{"field":"d","type":"temporal","scale":{"domain":[{"year":2010,"month":4,"date":4},{"year":2026,"month":12,"date":28}],"nice":false},"axis":null},
  "y":{"field":"v","type":"quantitative","scale":{"type":"log","domain":[10.6,57.04],"nice":false,"zero":false},
   "axis":{"orient":"left","values":[11,12,13,14,15,16,17,18,19,20,22,24,26,28,30,32,34,36,38,40,42,44,46,48,50,55],"labelExpr":"replace(format(datum.value,'.3f'),'.',',')","labelFontSize":12,"labelFont":"Liberation Sans","labelColor":"#000","tickSize":6,"tickColor":"#000","labelPadding":1,"domainColor":"#000","domainWidth":1.5,"grid":true,"gridDash":[1,15],"gridColor":"#000","gridWidth":1.2,"title":"US-$","titleAngle":0,"titleX":-35,"titleY":7,"titleAlign":"left","titleBaseline":"middle","titleFontSize":12,"titleFontWeight":"normal","titleFont":"Liberation Sans","titleColor":"#000","labelOverlap":false,"labelBound":false,"labelFlush":false}},
  "detail":{"field":"id"}}},
{"data":{"values":[{"d":"2018-10-16","v":23.16,"t":"Soli"}]},"mark":{"type":"text","font":"Liberation Serif","fontSize":118,"color":"#eeebe6","align":"left","baseline":"alphabetic"},
 "encoding":{"x":{"field":"d","type":"temporal","axis":null},"y":{"field":"v","type":"quantitative","axis":null},"text":{"field":"t"}}},
{"data":{"name":"boxes"},"mark":{"type":"rect","fill":"#e8fce8","stroke":"#008000","strokeWidth":1},
 "encoding":{"x":{"field":"d","type":"temporal","axis":null},"x2":{"field":"d2"},"y":{"field":"v","type":"quantitative","axis":null},"y2":{"field":"v2"}}},
{"data":{"name":"hlines"},"mark":{"type":"line","strokeCap":"butt"},
 "encoding":{"x":{"field":"d","type":"temporal","axis":null},"y":{"field":"v","type":"quantitative","axis":null},"detail":{"field":"id"},"stroke":{"field":"col","type":"nominal","scale":null},"strokeWidth":{"field":"w","type":"quantitative","scale":null}}},
{"data":{"name":"circles"},"mark":{"type":"point","filled":false,"shape":"M-0.72,0A0.72,1,0,1,1,0.72,0A0.72,1,0,1,1,-0.72,0Z","size":1936,"strokeWidth":1,"strokeDash":[3,2],"opacity":1},
 "encoding":{"x":{"field":"d","type":"temporal","axis":null},"y":{"field":"v","type":"quantitative","axis":null},"fill":{"field":"f","type":"nominal","scale":null},"stroke":{"field":"s","type":"nominal","scale":null},"fillOpacity":{"value":1}}},
{"data":{"name":"candles"},"mark":{"type":"rule","color":"#000","strokeWidth":1.2},
 "encoding":{"x":{"field":"d","type":"temporal","axis":null},"y":{"field":"l","type":"quantitative","axis":null},"y2":{"field":"h"}}},
{"data":{"name":"candles"},"mark":{"type":"bar","size":4,"stroke":"#000","strokeWidth":1},
 "encoding":{"x":{"field":"d","type":"temporal","axis":null},"y":{"field":"o","type":"quantitative","axis":null},"y2":{"field":"c"},"fill":{"condition":{"test":"datum.c >= datum.o","value":"#ffffff"},"value":"#000000"}}},
{"data":{"name":"vlines"},"mark":{"type":"rule","strokeWidth":1,"strokeDash":[4,3]},
 "encoding":{"x":{"field":"d","type":"temporal","axis":null},"stroke":{"field":"col","type":"nominal","scale":null}}},
{"data":{"name":"trend"},"mark":{"type":"line","strokeCap":"butt"},
 "encoding":{"x":{"field":"d","type":"temporal","axis":null},
  "y":{"field":"v","type":"quantitative","axis":{"orient":"right","values":[11,12,13,14,15,16,17,18,19,20,22,24,26,28,30,32,34,36,38,40,42,44,46,48,50,55],"labelExpr":"replace(format(datum.value,'.3f'),'.',',')","labelFontSize":12,"labelFont":"Liberation Sans","labelColor":"#000","tickSize":6,"tickColor":"#000","labelPadding":1,"domainColor":"#000","domainWidth":1.5,"grid":false,"title":"US-$","titleAngle":0,"titleX":6,"titleY":7,"titleAlign":"left","titleBaseline":"middle","titleFontSize":12,"titleFontWeight":"normal","titleFont":"Liberation Sans","titleColor":"#000","labelOverlap":false,"labelBound":false,"labelFlush":false}},
  "detail":{"field":"id"},"stroke":{"field":"col","type":"nominal","scale":null},"strokeWidth":{"field":"w","type":"quantitative","scale":null}}},
{"data":{"name":"sma"},"mark":{"type":"line","color":"#f0147c","strokeWidth":3,"strokeDash":[7,4],"interpolate":"monotone"},
 "encoding":{"x":{"field":"d","type":"temporal","axis":null},"y":{"field":"v","type":"quantitative","axis":null}}},
{"data":{"values":[{"d":"2011-02-21","d2":"2013-12-02","v":14.85,"v2":16.93}]},"mark":{"type":"rect","fill":"#a8ffa8","stroke":"#000","strokeWidth":1},
 "encoding":{"x":{"field":"d","type":"temporal","axis":null},"x2":{"field":"d2"},"y":{"field":"v","type":"quantitative","axis":null},"y2":{"field":"v2"}}},
{"data":{"values":[{"d":"2012-07-08","v":16.4,"t":"XAG/USD"},{"d":"2012-07-08","v":15.52,"t":"SILVER (WEEKLY)"}]},"mark":{"type":"text","font":"Liberation Sans","fontSize":29,"fontWeight":"bold","color":"#0000ee","align":"center","baseline":"middle"},
 "encoding":{"x":{"field":"d","type":"temporal","axis":null},"y":{"field":"v","type":"quantitative","axis":null},"text":{"field":"t"}}},
{"data":{"values":[{"d":"2022-02-23","v":46.75,"t":"WIDERSTAND BEI 48 $"},{"d":"2022-02-27","v":36.0,"t":"WIDERSTAND BEI 35 $"}]},"mark":{"type":"text","font":"Liberation Sans","fontSize":22.5,"fontWeight":"bold","color":"#ff0000","align":"left","baseline":"middle"},
 "encoding":{"x":{"field":"d","type":"temporal","axis":null},"y":{"field":"v","type":"quantitative","axis":null},"text":{"field":"t"}}},
{"data":{"values":[{"d":"2025-05-25","v":29.0,"t":"UNTERTSTÜTZUNG BEI 28 $"}]},"mark":{"type":"text","font":"Liberation Sans","fontSize":21,"fontWeight":"bold","color":"#2d8a12","align":"left","baseline":"middle","clip":true},
 "encoding":{"x":{"field":"d","type":"temporal","axis":null},"y":{"field":"v","type":"quantitative","axis":null},"text":{"field":"t"}}},
{"data":{"values":[{"d":"2020-10-16","v":21.49,"t":"UNTERSTÜTZUNG BEI 22 $"}]},"mark":{"type":"text","font":"Liberation Sans","fontSize":13,"fontWeight":"bold","color":"#1a1aff","align":"left","baseline":"middle"},
 "encoding":{"x":{"field":"d","type":"temporal","axis":null},"y":{"field":"v","type":"quantitative","axis":null},"text":{"field":"t"}}},
{"data":{"values":[{"d":"2010-04-10","v":10.75,"t":"- SMA(40):37,761"}]},"mark":{"type":"text","font":"Liberation Sans","fontSize":11,"color":"#ff1493","align":"left","baseline":"middle"},
 "encoding":{"x":{"field":"d","type":"temporal","axis":null},"y":{"field":"v","type":"quantitative","axis":null},"text":{"field":"t"}}},
{"data":{"values":[{"d":"2025-12-02","v":10.74,"t":"Kurs:47,495"}]},"mark":{"type":"text","font":"Liberation Sans","fontSize":12,"color":"#000","align":"right","baseline":"middle"},
 "encoding":{"x":{"field":"d","type":"temporal","axis":null},"y":{"field":"v","type":"quantitative","axis":null},"text":{"field":"t"}}},
{"data":{"values":[{"d":"2026-11-13","v":10.74,"t":"(-0,755 / -1,565%)"}]},"mark":{"type":"text","font":"Liberation Sans","fontSize":12,"fontWeight":"bold","color":"#000","align":"right","baseline":"middle"},
 "encoding":{"x":{"field":"d","type":"temporal","axis":null},"y":{"field":"v","type":"quantitative","axis":null},"text":{"field":"t"}}},
{"data":{"name":"tags"},"mark":{"type":"rect"},
 "encoding":{"x":{"field":"d","type":"temporal","axis":null},"x2":{"field":"d2"},"y":{"field":"v","type":"quantitative","axis":null},"y2":{"field":"v2"},"fill":{"field":"col","type":"nominal","scale":null}}},
{"data":{"name":"tags"},"mark":{"type":"text","font":"Liberation Sans","fontSize":14,"fontWeight":"bold","color":"#ffffff","align":"center","baseline":"middle"},
 "encoding":{"x":{"field":"m","type":"temporal","axis":null},"y":{"field":"c","type":"quantitative","axis":null},"text":{"field":"t"}}},
{"data":{"values":[{"d":"2010-04-04","d2":"2026-12-28","v":10.6}]},"mark":{"type":"rule","color":"#000","strokeWidth":1.5},
 "encoding":{"x":{"field":"d","type":"temporal","axis":null},"x2":{"field":"d2"},"y":{"field":"v","type":"quantitative","axis":null}}},
{"data":{"name":"years"},"mark":{"type":"rule","color":"#000","strokeWidth":1},
 "encoding":{"x":{"field":"d","type":"temporal","axis":null},"y":{"datum":10.6,"type":"quantitative","axis":null},"y2":{"datum":10.33}}},
{"data":{"name":"years"},"mark":{"type":"text","font":"Liberation Sans","fontSize":12.5,"color":"#000","align":"left","baseline":"middle","dx":3},
 "encoding":{"x":{"field":"d","type":"temporal","axis":null},"y":{"datum":10.46,"type":"quantitative","axis":null},"text":{"field":"t"}}},
{"data":{"values":[{"d":"2009-10-02","v":10.46,"t":"LOG"}]},"mark":{"type":"text","font":"Liberation Sans","fontSize":12.5,"color":"#000","align":"left","baseline":"middle"},
 "encoding":{"x":{"field":"d","type":"temporal","axis":null},"y":{"field":"v","type":"quantitative","axis":null},"text":{"field":"t"}}}
]
}
